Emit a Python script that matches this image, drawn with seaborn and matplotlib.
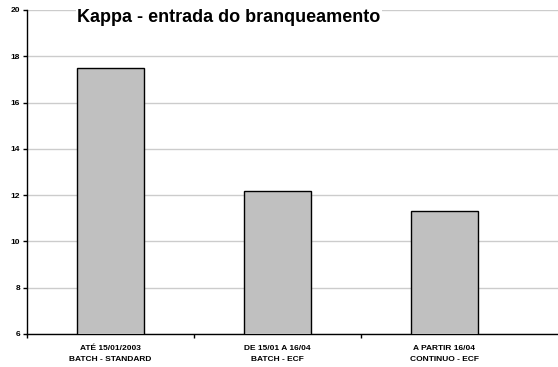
import matplotlib
matplotlib.use("Agg")
import matplotlib.pyplot as plt
import seaborn as sns
import pandas as pd
from matplotlib.ticker import FixedLocator, NullFormatter

periodos = ["ATÉ 15/01/2003\nBATCH - STANDARD",
            "DE 15/01 A 16/04\nBATCH - ECF",
            "A PARTIR 16/04\nCONTINUO - ECF"]
kappa = [17.5, 12.2, 11.3]
y_ticks = [6, 8, 10, 12, 14, 16, 18, 20]

df = pd.DataFrame({"periodo": periodos, "kappa": kappa})

sns.set_theme(style="white")
plt.rcParams["font.family"] = ["Liberation Sans", "DejaVu Sans"]
plt.rcParams["text.color"] = "black"
plt.rcParams["xtick.color"] = "black"
plt.rcParams["ytick.color"] = "black"

fig = plt.figure(figsize=(5.58, 3.67), dpi=100)
ax = fig.add_axes([27 / 558, 33 / 367, 531 / 558, 324 / 367])

sns.barplot(data=df, x="periodo", y="kappa", ax=ax, color="#c0c0c0",
            saturation=1, width=0.4, edgecolor="black", linewidth=1.0,
            zorder=3)

ax.set_ylim(6, 20)
ax.set_yticks(y_ticks)
ax.set_xlim(-0.5, 2.68)
ax.yaxis.grid(True, color="#cccccc", linewidth=1.0, zorder=0)
ax.set_axisbelow(True)

for s in ("top", "right"):
    ax.spines[s].set_visible(False)
for s in ("left", "bottom"):
    ax.spines[s].set_color("black")
    ax.spines[s].set_linewidth(1.0)

ax.set_xlabel("")
ax.set_ylabel("")
ax.tick_params(axis="y", which="major", length=3, width=1, color="black",
               labelcolor="black", labelsize=6, pad=2, left=True)
ax.tick_params(axis="x", which="major", length=0, labelsize=6, pad=8,
               labelcolor="black")
ax.xaxis.set_minor_locator(FixedLocator([-0.5, 0.5, 1.5]))
ax.xaxis.set_minor_formatter(NullFormatter())
ax.tick_params(axis="x", which="minor", length=3, width=1, color="black",
               bottom=True, direction="out")
for lbl in ax.get_yticklabels() + ax.get_xticklabels():
    lbl.set_fontweight("bold")
for lbl in ax.get_xticklabels():
    lbl.set_linespacing(1.75)

fig.text(77 / 558, 1 - 18 / 367, "Kappa - entrada do branqueamento",
         fontsize=13, fontweight="bold", ha="left", va="center",
         color="black",
         bbox=dict(facecolor="white", edgecolor="none", pad=1))

fig.savefig("out.png", dpi=100, facecolor="white")
